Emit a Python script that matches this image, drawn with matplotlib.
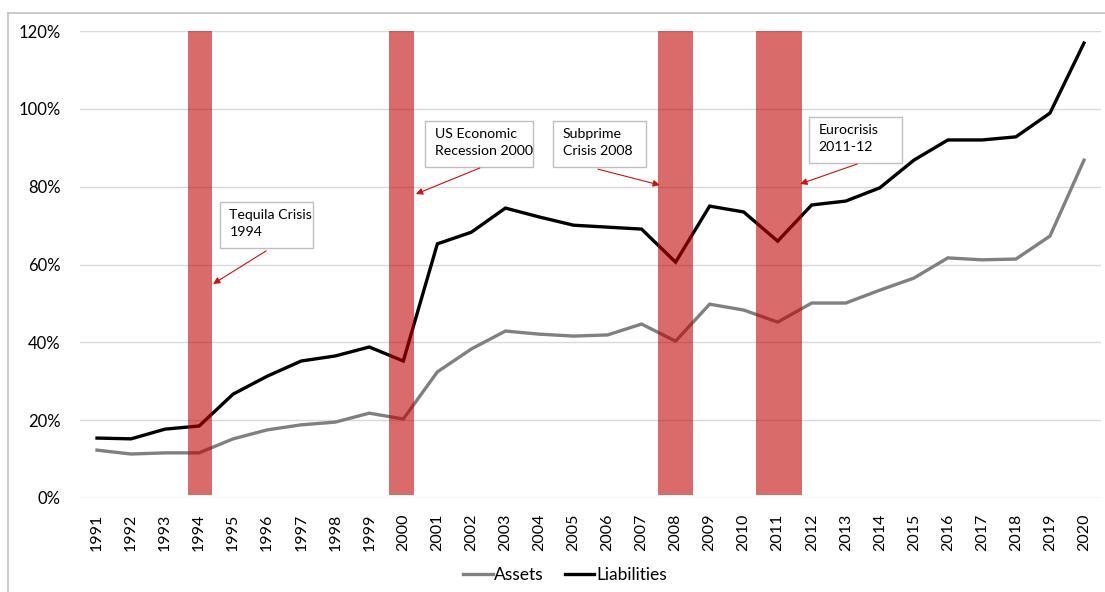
import matplotlib
matplotlib.use("Agg")
import matplotlib.pyplot as plt
from matplotlib.patches import Rectangle
from matplotlib.lines import Line2D
from matplotlib.ticker import FuncFormatter

plt.rcParams['font.family'] = ['Lato', 'DejaVu Sans']

years = list(range(1991, 2021))
assets = [12.3, 11.3, 11.6, 11.6, 15.2, 17.5, 18.8, 19.5, 21.8, 20.3,
          32.4, 38.3, 42.9, 42.1, 41.6, 41.9, 44.7, 40.3, 49.8, 48.3,
          45.2, 50.1, 50.1, 53.4, 56.5, 61.7, 61.2, 61.4, 67.3, 86.8]
liabilities = [15.4, 15.2, 17.7, 18.5, 26.7, 31.3, 35.2, 36.5, 38.8, 35.2,
               65.3, 68.3, 74.5, 72.2, 70.1, 69.6, 69.1, 60.6, 75.0, 73.5,
               66.0, 75.3, 76.3, 79.7, 86.8, 92.0, 92.0, 92.8, 98.9, 116.9]

crisis_start = [1993.67, 1999.58, 2007.49, 2010.37]
crisis_end = [1994.38, 2000.32, 2008.51, 2011.72]
crisis_labels = ["Tequila Crisis\n1994", "US Economic\nRecession 2000",
                 "Subprime\nCrisis 2008", "Eurocrisis\n2011-12"]

fig = plt.figure(figsize=(11.05, 5.92), dpi=100)
ax = fig.add_axes([80 / 1105, 1 - 498 / 592, (1101 - 80) / 1105, (498 - 31) / 592])

ax.plot(years, assets, color='#808080', lw=2.4, solid_joinstyle='miter', label='Assets', zorder=3)
ax.plot(years, liabilities, color='black', lw=2.4, solid_joinstyle='miter', label='Liabilities', zorder=3)

for x0, x1 in zip(crisis_start, crisis_end):
    ax.axvspan(x0, x1, ymin=0.007, ymax=1.0, color='#C00000', alpha=0.58, lw=0, zorder=4)

ax.set_xlim(1990.5, 2020.5)
ax.set_ylim(0, 120)
ax.set_xticks(years)
ax.set_xticklabels([str(y) for y in years], rotation=90, fontsize=11.5)
ax.set_yticks(range(0, 121, 20))
ax.yaxis.set_major_formatter(FuncFormatter(lambda v, p: f"{int(v)}%"))
ax.tick_params(axis='y', length=0, pad=14, labelsize=12)
ax.tick_params(axis='x', length=0, pad=11)
for s in ax.spines.values():
    s.set_visible(False)
ax.grid(axis='y', color='#D9D9D9', lw=1, zorder=0)
ax.set_axisbelow(True)

# callout boxes: (box left, box right, box bottom, box top, arrow tail, arrow head)
callouts = [
    (1994.61, 1997.35, 64.2, 76.1, (1995.97, 63.5), (1994.41, 55.0)),
    (2000.64, 2003.81, 85.0, 96.9, (2002.25, 84.8), (2000.37, 78.1)),
    (2004.40, 2007.13, 85.0, 96.9, (2005.72, 84.5), (2007.54, 80.4)),
    (2011.92, 2014.66, 86.1, 98.0, (2013.33, 85.8), (2011.66, 80.7)),
]
for label, (bx0, bx1, by0, by1, tail, head) in zip(crisis_labels, callouts):
    ax.add_patch(Rectangle((bx0, by0), bx1 - bx0, by1 - by0, facecolor='white',
                           edgecolor='#BFBFBF', lw=1, zorder=5))
    ax.text(bx0 + 0.28, by1 - 1.9, label, fontsize=10.2, va='top', ha='left',
            linespacing=1.45, zorder=6)
    ax.annotate("", xy=head, xytext=tail,
                arrowprops=dict(arrowstyle='-|>', color='#D01010', lw=0.8,
                                mutation_scale=10, shrinkA=0, shrinkB=0),
                zorder=6)

fig.legend(loc='center', bbox_to_anchor=(565 / 1105, 1 - 575 / 592), ncol=2,
           frameon=False, fontsize=12.5, handlelength=1.7, handletextpad=0.1,
           columnspacing=1.2)

# chart frame
fig.add_artist(Line2D([8 / 1105, 8 / 1105], [0, 1 - 13 / 592], transform=fig.transFigure,
                      color='#C0C0C0', lw=1.2))
fig.add_artist(Line2D([8 / 1105, 1], [1 - 13 / 592, 1 - 13 / 592], transform=fig.transFigure,
                      color='#C0C0C0', lw=1.2))

fig.savefig("out.png", dpi=100)
